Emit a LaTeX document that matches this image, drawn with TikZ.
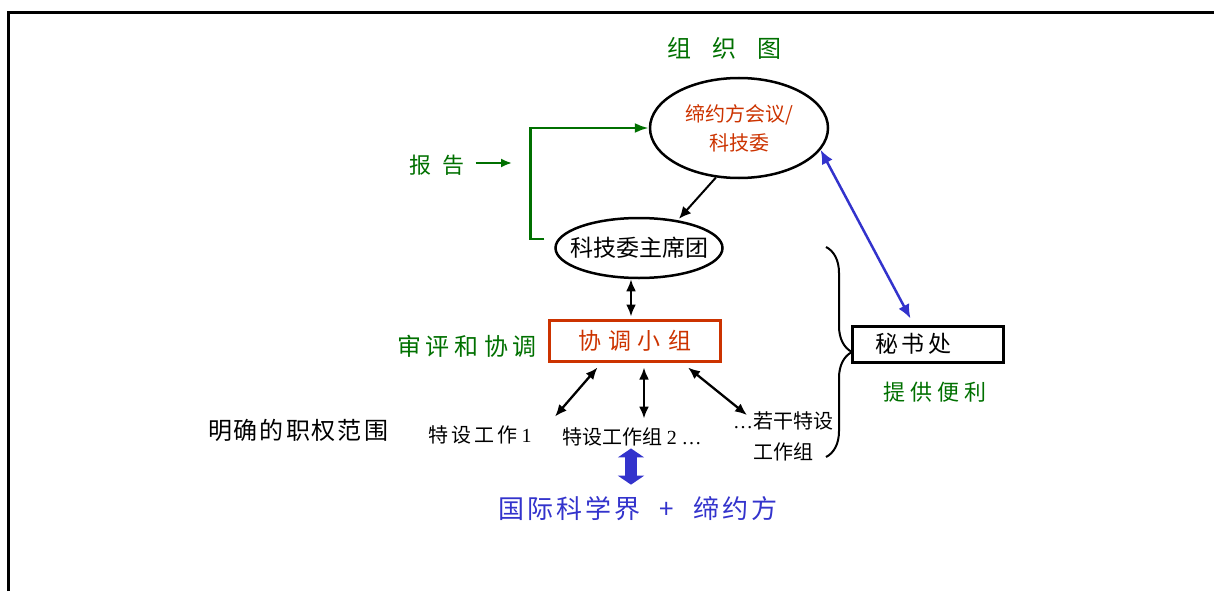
\documentclass[tikz,border=0pt]{standalone}
\usepackage{fontspec}
\setmainfont{Liberation Serif}
\newfontfamily\cjk{Noto Sans CJK SC}
\usetikzlibrary{arrows.meta,shapes.geometric,decorations.pathreplacing}
\definecolor{orggreen}{RGB}{0,112,0}
\definecolor{orgred}{RGB}{204,51,0}
\definecolor{orgblue}{RGB}{51,51,204}
\newcommand{\fsz}[1]{\fontsize{#1}{#1}\selectfont}
\tikzset{
	lbl/.style={inner sep=1pt,font=\cjk\fsz{22}},
	oval/.style={draw,ellipse,inner sep=0pt,line width=2.5pt},
	link/.style={{Latex[length=12pt,width=10pt]}-{Latex[length=12pt,width=10pt]},line width=2.3pt},
}
\begin{document}
\begin{tikzpicture}[x=1pt,y=-1pt]
			\useasboundingbox (0,0) rectangle (1214,591);
			\draw[line width=3pt] (8,591) -- (8,13) -- (1214,13);
			\node[lbl,orggreen,font=\cjk\fsz{24}](title) at (724,48)
				{组\hspace{21pt}织\hspace{21pt}图};
				\node[oval,minimum width=178pt,minimum height=100pt,
				text=orgred,align=center,font=\cjk\fontsize{20}{29}\selectfont]
				(council) at (739,128) {缔约方会议/\\科技委};
				\node[oval,minimum width=167pt,minimum height=60pt,
				font=\cjk\fsz{23}](chair) at (639,248)
				{\makebox[0pt]{科技委主席团}};
				\draw[-{Latex[length=12pt,width=11pt]},line width=2pt]
				(council.-115) -- ([xshift=40pt,yshift=-2pt]chair.north);
				\draw[-{Latex[length=14pt,width=10pt]},line width=2.5pt,orggreen]
				([xshift=-10pt,yshift=9pt]chair.west) -- ++(-14,0) |- (council.west);
				\node[lbl,orggreen](report) at (437,165)
				{报\hspace{11pt}告};
				\coordinate (reportend) at (512,163);
				\draw[-{Latex[length=11pt,width=9pt]},line width=2pt,orggreen]
				([xshift=10pt,yshift=2pt]report.east) -- (reportend);
				\node[draw=orgred,line width=3pt,minimum width=171pt,
				minimum height=41pt,text=orgred,font=\cjk\fsz{23}]
				(panel) at (634.5,340.5) {协\hspace{7pt}调\hspace{7pt}小\hspace{7pt}组};
				\draw[link] ([xshift=-8pt]chair.south) -- ([xshift=-3.5pt,yshift=2pt]panel.north);
				\node[lbl,orggreen,font=\cjk\fsz{24}](review) at (467,346)
				{审\hspace{5pt}评\hspace{5pt}和\hspace{5pt}协\hspace{5pt}调};
				\node[lbl,font=\cjk\fsz{24}](mandate) at (298,430)
				{明\hspace{2pt}确\hspace{2pt}的\hspace{2pt}职\hspace{2pt}权\hspace{2pt}范\hspace{2pt}围};
				\node[lbl,font=\cjk\fsz{20}](wg1) at (480,435)
				{特\hspace{3pt}设\hspace{3pt}工\hspace{3pt}作 {\rmfamily 1}};
				\node[lbl,font=\cjk\fsz{20}](wg2) at (632,437)
				{特设工作组 {\rmfamily 2 …}};
				\node[lbl,font=\cjk\fontsize{20}{31}\selectfont,align=center]
				(wgn) at (783,436) {{\rmfamily …}若干特设\\工作组};
				\draw[link] ([xshift=-37pt,yshift=-5pt]panel.south) -- ([xshift=75pt,yshift=8pt]wg1.north);
				\draw[link] ([xshift=9.5pt,yshift=-5pt]panel.south) -- ([xshift=12pt,yshift=8pt]wg2.north);
				\draw[link] ([xshift=53.5pt,yshift=-5pt]panel.south) -- ([xshift=-36pt,yshift=-5pt]wgn.north);
				\node[lbl,orgblue,font=\cjk\fsz{26}](science) at (638,509)
				{国\hspace{3pt}际\hspace{3pt}科\hspace{3pt}学\hspace{3pt}界\hspace{19pt}+\hspace{19pt}缔\hspace{3pt}约\hspace{3pt}方};
				\draw[orgblue,line width=12pt,
				{Triangle[length=9pt,width=26pt]}-{Triangle[length=9pt,width=26pt]}]
				([xshift=-1pt,yshift=-1pt]wg2.south) -- ([xshift=-7pt,yshift=11pt]science.north);
				\node[draw,line width=3pt,minimum width=151pt,minimum height=36pt,
				font=\cjk\fsz{23}](secretariat) at (927.5,344)
				{\hspace{-28pt}秘\hspace{4pt}书\hspace{4pt}处};
				\node[lbl,orggreen](facilitate) at (935,392)
				{提\hspace{5pt}供\hspace{5pt}便\hspace{5pt}利};
				\draw[{Latex[length=14pt,width=12pt]}-{Latex[length=14pt,width=12pt]},
				line width=2.5pt,orgblue]
				(council.-15) -- ([xshift=-17pt,yshift=6pt]secretariat.north);
				\draw[line width=2pt,decorate,decoration={brace,amplitude=26pt}]
				(826,247) -- (826,457);
		\end{tikzpicture}
\end{document}
